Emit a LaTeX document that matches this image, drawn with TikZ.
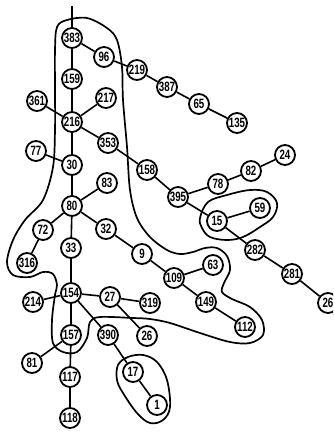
\documentclass[tikz,border=0pt]{standalone}
\usepackage{fontspec}
\setmainfont{Liberation Sans}[FakeStretch=0.72]
\begin{document}
\begin{tikzpicture}[x=1pt,y=-1pt,
  nd/.style={circle,draw,fill=white,line width=1.8pt,minimum size=20pt,inner sep=0pt,font=\fontsize{13.5}{13.5}\selectfont\bfseries},
  ed/.style={line width=1.6pt},
  hull/.style={line width=1.7pt}]
\useasboundingbox[fill=white] (0,0) rectangle (333,432);
\clip (0,0) rectangle (333,432);
% hulls
\draw[hull] plot[smooth cycle,tension=0.55] coordinates {
 (57,27) (67,20) (87,18) (107,28) (117,40) (122,67) (123,100) (127,147) (130,190)
 (137,218) (150,237) (167,250) (180,254) (193,252) (205,248) (217,248) (227,256)
 (230,270) (224,283) (222,292) (232,299) (250,307) (262,320) (263,335) (250,343)
 (230,342) (200,333) (170,323) (150,319) (133,318) (100,317) (90,322) (87,338)
 (77,352) (63,352) (53,343) (52,320) (55,295) (57,285) (53,274) (43,272) (30,277)
 (13,275) (7,262) (13,240) (25,220) (43,200) (53,167) (55,130) (55,90) (55,50)};
\draw[hull] plot[smooth cycle,tension=0.6] coordinates {
 (200,218) (208,202) (227,195) (250,190) (267,192) (277,203) (273,217) (260,227)
 (243,237) (227,240) (210,237) (202,228)};
\draw[hull] plot[smooth cycle,tension=0.6] coordinates {
 (118,365) (128,357) (143,355) (157,362) (167,380) (170,407) (163,420) (150,423)
 (137,413) (123,393) (117,380)};
% nodes
\node[nd] (n383) at (72,38) {383};
\node[nd] (n96) at (104,57) {96};
\node[nd] (n219) at (137,70) {219};
\node[nd] (n387) at (167,87) {387};
\node[nd] (n65) at (199,104) {65};
\node[nd] (n135) at (237,123) {135};
\node[nd] (n159) at (72,79) {159};
\node[nd] (n217) at (106,98) {217};
\node[nd] (n361) at (37,101) {361};
\node[nd] (n216) at (72,122) {216};
\node[nd] (n353) at (108,143) {353};
\node[nd] (n77) at (36,151) {77};
\node[nd] (n30) at (72,165) {30};
\node[nd] (n158) at (147,170) {158};
\node[nd] (n395) at (178,197) {395};
\node[nd] (n78) at (218,184) {78};
\node[nd] (n82) at (251,171) {82};
\node[nd] (n24) at (285,155) {24};
\node[nd] (n59) at (260,208) {59};
\node[nd] (n15) at (217,221) {15};
\node[nd] (n83) at (107,183) {83};
\node[nd] (n80) at (72,206) {80};
\node[nd] (n32) at (106,229) {32};
\node[nd] (n72) at (43,230) {72};
\node[nd] (n33) at (71,248) {33};
\node[nd] (n9) at (142,254) {9};
\node[nd] (n316) at (27,263) {316};
\node[nd] (n109) at (174,278) {109};
\node[nd] (n63) at (213,265) {63};
\node[nd] (n282) at (255,250) {282};
\node[nd] (n281) at (292,274) {281};
\node[nd] (n26b) at (328,303) {26};
\node[nd] (n214) at (33,302) {214};
\node[nd] (n154) at (71,293) {154};
\node[nd] (n27) at (110,297) {27};
\node[nd] (n319) at (150,303) {319};
\node[nd] (n149) at (206,302) {149};
\node[nd] (n26a) at (147,336) {26};
\node[nd] (n157) at (71,335) {157};
\node[nd] (n390) at (108,335) {390};
\node[nd] (n112) at (245,327) {112};
\node[nd] (n81) at (32,363) {81};
\node[nd] (n117) at (70,377) {117};
\node[nd] (n17) at (133,372) {17};
\node[nd] (n1) at (157,405) {1};
\node[nd] (n118) at (70,418) {118};
\coordinate (top) at (72,6);
% edges
\draw[ed] (top) -- (n383);
\foreach \a/\b in {383/96,383/159,96/219,219/387,387/65,65/135,159/216,361/216,217/216,
  216/353,216/30,353/158,77/30,30/80,158/395,395/78,78/82,82/24,395/15,15/59,15/282,
  282/281,281/26b,80/83,80/72,80/32,80/33,72/316,32/9,9/109,109/63,109/149,149/112,
  33/154,214/154,154/27,27/319,27/26a,154/390,154/157,157/117,81/157,117/118,390/17,17/1}
  \draw[ed] (n\a) -- (n\b);
\end{tikzpicture}
\end{document}
